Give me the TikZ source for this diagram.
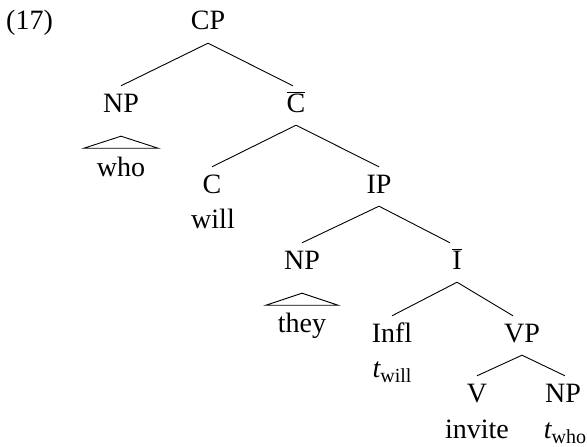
\documentclass[tikz,border=0pt]{standalone}
\usepackage{fontspec}
\setmainfont{Liberation Serif}
\newcommand{\trc}[1]{{\itshape t}\raisebox{-5pt}{\fontsize{20}{20}\selectfont #1}}
\newcommand{\barred}[1]{$\overline{\mbox{#1}}$}
\begin{document}
\begin{tikzpicture}[x=1pt,y=-1pt,
  lbl/.style={inner sep=0pt, anchor=base, font=\fontsize{28}{32}\selectfont, text height=26pt, text depth=13pt},
  wrd/.style={inner sep=0pt, anchor=base, font=\fontsize{28}{32}\selectfont},
  edge/.style={line width=0.9pt},
  roof/.style={line width=0.9pt}]
\useasboundingbox (0,0) rectangle (587,447);
\node[wrd, anchor=base west] (ex) at (6,30) {(17)};
\node[lbl] (cp) at (208,30) {CP};
\node[lbl] (np1) at (121,112) {NP};
\node[lbl] (cb) at (296,112) {\barred{C}};
\node[wrd] (who) at (121,176) {who};
\node[lbl] (c) at (212,193) {C};
\node[lbl] (ip) at (379,193) {IP};
\node[wrd] (will) at (213,228) {will};
\node[lbl] (np2) at (302,269) {NP};
\node[lbl] (ib) at (457,269) {\barred{I}};
\node[wrd] (they) at (302,332) {they};
\node[lbl] (infl) at (392,342) {Infl};
\node[lbl] (vp) at (522,342) {VP};
\node[wrd] (tw) at (392,377) {\trc{will}};
\node[lbl] (v) at (477,402) {V};
\node[lbl] (np3) at (563,402) {NP};
\node[wrd] (inv) at (477,438) {invite};
\node[wrd] (twho) at (565,438) {\trc{who}};
\draw[edge] (cp.south) -- (np1.north);
\draw[edge] (cp.south) -- ([xshift=-3pt]cb.north);
\draw[edge] (cb.south) -- (c.north);
\draw[edge] (cb.south) -- (ip.north);
\draw[edge] (ip.south) -- (np2.north);
\draw[edge] (ip.south) -- ([xshift=-7pt]ib.north);
\draw[edge] (ib.south) -- (infl.north);
\draw[edge] (ib.south) -- ([xshift=-9pt]vp.north);
\draw[edge] (vp.south) -- (v.north);
\draw[edge] (vp.south) -- ([xshift=2pt]np3.north);
\draw[roof] ([yshift=-11pt]np1.south) -- ++(-37,12) -- ++(74,0) -- cycle;
\draw[roof] ([yshift=-11pt]np2.south) -- ++(-36,12) -- ++(72,0) -- cycle;
\end{tikzpicture}
\end{document}
